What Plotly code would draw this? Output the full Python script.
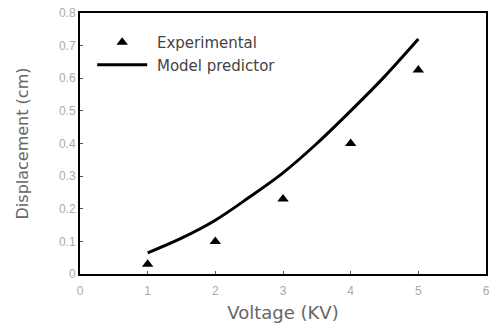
import plotly.graph_objects as go

exp_x = [1, 2, 3, 4, 5]
exp_y = [0.03, 0.10, 0.23, 0.40, 0.625]

model_x = [1, 1.5, 2, 2.5, 3, 3.5, 4, 4.5, 5]
model_y = [0.065, 0.11, 0.165, 0.235, 0.31, 0.40, 0.50, 0.605, 0.72]

x_ticks = [0, 1, 2, 3, 4, 5, 6]
y_ticks = [0, 0.1, 0.2, 0.3, 0.4, 0.5, 0.6, 0.7, 0.8]
y_tick_text = ["0", "0.1", "0.2", "0.3", "0.4", "0.5", "0.6", "0.7", "0.8"]

fig = go.Figure()
fig.add_trace(go.Scatter(
    x=exp_x, y=exp_y, mode="markers", name=" Experimental",
    marker=dict(symbol="triangle-up", size=10, color="black"),
))
fig.add_trace(go.Scatter(
    x=model_x, y=model_y, mode="lines", name=" Model predictor",
    line=dict(color="black", width=3, shape="spline"),
))

axis_common = dict(
    showgrid=False, zeroline=False, showline=True, linecolor="black",
    linewidth=2, mirror=True, ticks="inside", ticklen=3, tickcolor="#555",
    tickfont=dict(family="Liberation Sans, Arial", size=12, color="#aaa"),
)

fig.update_xaxes(range=[0, 6], tickvals=x_ticks, ticklabelstandoff=5,
                 title=dict(text="Voltage (KV)", standoff=9,
                            font=dict(family="DejaVu Sans", size=18, color="#666")),
                 **axis_common)
fig.update_yaxes(range=[0, 0.8], tickvals=y_ticks, ticktext=y_tick_text,
                 title=dict(text="Displacement (cm)", standoff=26,
                            font=dict(family="DejaVu Sans", size=16, color="#666")),
                 **axis_common)

fig.update_layout(
    width=496, height=329,
    margin=dict(l=80, r=6, t=10, b=55),
    paper_bgcolor="white", plot_bgcolor="white",
    showlegend=True,
    legend=dict(x=0.03, y=0.95, xanchor="left", yanchor="top",
                bgcolor="rgba(0,0,0,0)", itemwidth=50,
                font=dict(family="DejaVu Sans", size=15, color="#444")),
)

fig.write_html("out.html")
